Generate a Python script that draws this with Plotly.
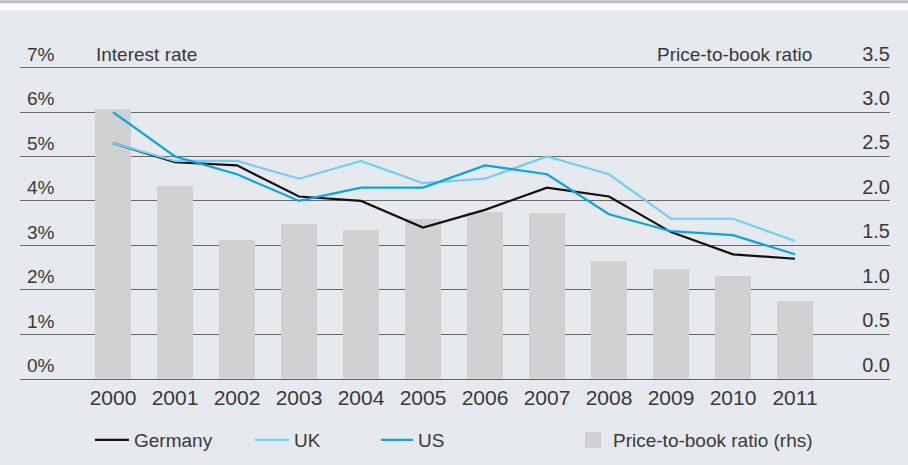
import plotly.graph_objects as go

years = [2000, 2001, 2002, 2003, 2004, 2005, 2006, 2007, 2008, 2009, 2010, 2011]
germany = [5.3, 4.87, 4.8, 4.1, 4.0, 3.4, 3.8, 4.3, 4.1, 3.3, 2.8, 2.7]
uk = [5.3, 4.9, 4.9, 4.5, 4.9, 4.4, 4.5, 5.0, 4.6, 3.6, 3.6, 3.1]
us = [6.0, 5.0, 4.6, 4.0, 4.3, 4.3, 4.8, 4.6, 3.7, 3.32, 3.23, 2.8]
pb_ratio = [3.03, 2.17, 1.56, 1.74, 1.67, 1.8, 1.88, 1.86, 1.32, 1.24, 1.16, 0.87]

FONT = "Liberation Sans"
TXT = "#3a3a3a"
BG = "#e6e9ed"

W, H = 908, 465
ML, MR, MT, MB = 20, 18, 32, 83
PW, PH = W - ML - MR, H - MT - MB


def px_x(p):
    return (p - ML) / PW


def px_y(p):
    return (H - MB - p) / PH


fig = go.Figure()

fig.add_trace(go.Bar(
    x=years, y=pb_ratio, yaxis="y", width=0.58,
    marker=dict(color="#d0d1d1", line=dict(width=0)),
    showlegend=False, name="Price-to-book ratio (rhs)",
))

line_specs = [("Germany", germany, "#111111", "legend"),
              ("UK", uk, "#72cff3", "legend2"),
              ("US", us, "#0aa4e3", "legend3")]
for name, vals, col, lg in line_specs:
    fig.add_trace(go.Scatter(
        x=years, y=vals, yaxis="y2", mode="lines", name=name,
        line=dict(color=col, width=2.2), legend=lg,
    ))

# legend entry for bars (square swatch)
fig.add_trace(go.Scatter(
    x=[None], y=[None], yaxis="y2", mode="markers", name="Price-to-book ratio (rhs)",
    marker=dict(symbol="square", size=16, color="#d0d1d1"), legend="legend4",
))

leg_common = dict(orientation="h", xref="container", yref="container",
                  yanchor="middle", y=1 - 440 / H, bgcolor="rgba(0,0,0,0)",
                  font=dict(family=FONT, size=19, color=TXT), borderwidth=0)

fig.update_layout(
    width=W, height=H,
    margin=dict(l=ML, r=MR, t=MT, b=MB),
    paper_bgcolor=BG, plot_bgcolor=BG,
    font=dict(family=FONT, size=19, color=TXT),
    bargap=0,
    xaxis=dict(
        range=[1998.5, 1998.5 + PW / 62.0], tickmode="array", tickvals=years,
        ticktext=[str(y) for y in years], showgrid=False, zeroline=False,
        showline=True, linecolor="#666666", linewidth=1, ticks="",
        tickfont=dict(size=21, color=TXT),
    ),
    yaxis=dict(
        side="right", range=[0, 3.9], tickmode="array",
        tickvals=[0, 0.5, 1, 1.5, 2, 2.5, 3, 3.5],
        ticktext=["0.0", "0.5", "1.0", "1.5", "2.0", "2.5", "3.0", "3.5"],
        showgrid=True, gridcolor="#6a6a6a", gridwidth=1, zeroline=False,
        ticklabelstandoff=-3,
        ticklabelposition="inside top", ticks="", tickfont=dict(size=20, color=TXT),
    ),
    yaxis2=dict(
        overlaying="y", side="left", range=[0, 7.8], tickmode="array",
        tickvals=[0, 1, 2, 3, 4, 5, 6, 7],
        ticktext=["0%", "1%", "2%", "3%", "4%", "5%", "6%", "7%"],
        showgrid=False, zeroline=False, ticklabelstandoff=4,
        ticklabelposition="inside top", ticks="", tickfont=dict(size=19, color=TXT),
    ),
    legend=dict(x=90 / W, itemwidth=34, **leg_common),
    legend2=dict(x=250 / W, itemwidth=34, **leg_common),
    legend3=dict(x=376 / W, itemwidth=32, **leg_common),
    legend4=dict(x=573 / W, **leg_common),
    shapes=[
        dict(type="rect", xref="paper", yref="paper", x0=px_x(0), x1=px_x(W),
             y0=px_y(10), y1=px_y(0), fillcolor="#ffffff", line=dict(width=0), layer="above"),
        dict(type="rect", xref="paper", yref="paper", x0=px_x(0), x1=px_x(W),
             y0=px_y(3), y1=px_y(0), fillcolor="#b9bcc0", line=dict(width=0), layer="above"),
    ],
    annotations=[
        dict(text="Interest rate", xref="paper", yref="paper", x=px_x(94), y=px_y(67),
             xanchor="left", yanchor="bottom", showarrow=False,
             font=dict(family=FONT, size=19, color=TXT)),
        dict(text="Price-to-book ratio", xref="paper", yref="paper", x=px_x(814), y=px_y(67),
             xanchor="right", yanchor="bottom", showarrow=False,
             font=dict(family=FONT, size=19, color=TXT)),
    ],
)

fig.write_html("out.html", config={"displayModeBar": False},
               post_script="document.body.style.margin='0';document.body.style.overflow='hidden';")
